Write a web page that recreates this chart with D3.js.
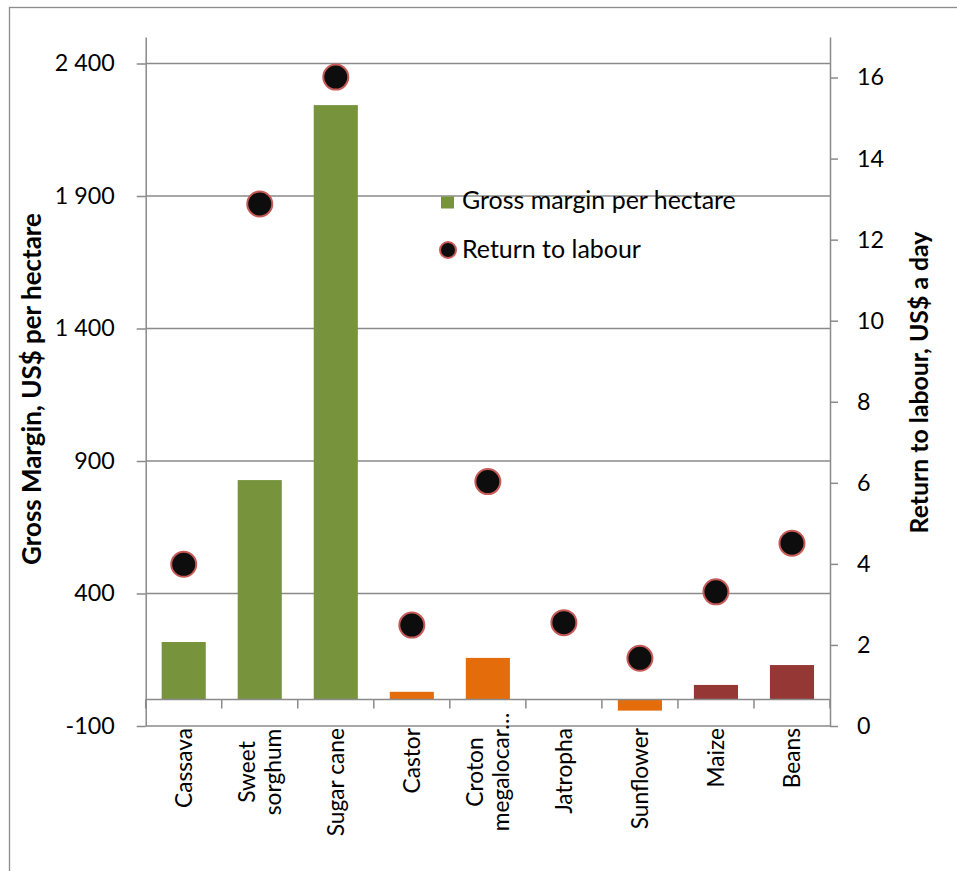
<!DOCTYPE html>
<html>
<head>
<meta charset="utf-8">
<script src="https://cdn.jsdelivr.net/npm/d3@7"></script>
<style>
  html, body { margin: 0; padding: 0; background: #fff; }
  svg { display: block; font-family: Lato, "Liberation Sans", sans-serif; }
</style>
</head>
<body>
<svg id="chart" width="957" height="871"></svg>
<script>
// ---- data ----
const categories = ["Cassava", "Sweet sorghum", "Sugar cane", "Castor", "Croton megalocarpus", "Jatropha", "Sunflower", "Maize", "Beans"];
const categoryLabels = [["Cassava"], ["Sweet", "sorghum"], ["Sugar cane"], ["Castor"], ["Croton", "megalocar…"], ["Jatropha"], ["Sunflower"], ["Maize"], ["Beans"]];
const cropGroups = ["energy", "energy", "energy", "oil", "oil", "oil", "oil", "food", "food"];
const grossMargin = [217, 828, 2243, 29, 157, 0, -42, 55, 130];
const returnToLabour = [3.99, 12.88, 16.01, 2.49, 6.03, 2.55, 1.67, 3.31, 4.51];
const leftTicks = [-100, 400, 900, 1400, 1900, 2400];
const rightTicks = [0, 2, 4, 6, 8, 10, 12, 14, 16];
const seriesNames = ["Gross margin per hectare", "Return to labour"];
const leftTitle = "Gross Margin, US$ per hectare";
const rightTitle = "Return to labour, US$ a day";

// ---- layout ----
const svg = d3.select("#chart");
const plotLeft = 145.7, plotRight = 830, plotTop = 37, plotBottom = 726;
const gridColor = "#8a8a8a";

const x = d3.scaleBand().domain(categories).range([plotLeft, plotRight]).paddingInner(0.42).paddingOuter(0.21);
const yL = d3.scaleLinear().domain([-100, 2500]).range([plotBottom, plotTop]);
const yR = d3.scaleLinear().domain([0, 17]).range([plotBottom, plotTop]);
const color = d3.scaleOrdinal().domain(["energy", "oil", "food"]).range(["#77933C", "#E46C0A", "#953735"]);

const locale = d3.formatLocale({ decimal: ".", thousands: " ", grouping: [3], currency: ["", ""], minus: "-" });
const fmtL = locale.format(",");

// helper: font size so that sample text has the target width
function fitSize(sample, target, weight) {
  const t = svg.append("text").attr("font-size", 100).attr("font-weight", weight || "normal").text(sample);
  const w = t.node().getComputedTextLength();
  t.remove();
  return 100 * target / w;
}
const tickFs = fitSize("2 400", 60);
const catFs = fitSize("Cassava", 80);
const legFs = fitSize(seriesNames[0], 274);
const leftTitleFs = fitSize(leftTitle, 352, "bold");
const rightTitleFs = fitSize(rightTitle, 302, "bold");

// outer frame
svg.append("rect").attr("x", 9.5).attr("y", 7.5).attr("width", 1000).attr("height", 1000)
  .attr("fill", "none").attr("stroke", "#8c8c8c").attr("stroke-width", 1.3);

// gridlines
svg.append("g").selectAll("line").data(leftTicks).join("line")
  .attr("x1", plotLeft).attr("x2", plotRight)
  .attr("y1", d => yL(d)).attr("y2", d => yL(d))
  .attr("stroke", gridColor).attr("stroke-width", 1.5);

// bars
svg.append("g").selectAll("rect").data(categories).join("rect")
  .attr("x", d => x(d))
  .attr("width", x.bandwidth())
  .attr("y", (d, i) => yL(Math.max(0, grossMargin[i])))
  .attr("height", (d, i) => Math.abs(yL(grossMargin[i]) - yL(0)))
  .attr("fill", (d, i) => color(cropGroups[i]));

// zero line with category separators
const zeroG = svg.append("g");
zeroG.append("line").attr("x1", plotLeft).attr("x2", plotRight)
  .attr("y1", yL(0)).attr("y2", yL(0)).attr("stroke", gridColor).attr("stroke-width", 1.5);
zeroG.selectAll("line.sep").data(d3.range(categories.length + 1)).join("line").attr("class", "sep")
  .attr("x1", i => plotLeft + i * x.step()).attr("x2", i => plotLeft + i * x.step())
  .attr("y1", yL(0)).attr("y2", yL(0) + 9)
  .attr("stroke", gridColor).attr("stroke-width", 1.5);

// left axis
const axL = svg.append("g").attr("transform", `translate(${plotLeft},0)`)
  .call(d3.axisLeft(yL).tickValues(leftTicks).tickFormat(fmtL).tickSize(9).tickSizeOuter(0).tickPadding(22));
axL.select(".domain").attr("stroke", gridColor).attr("stroke-width", 1.5);
axL.selectAll(".tick line").attr("stroke", gridColor).attr("stroke-width", 1.5);
axL.selectAll(".tick text").attr("font-size", tickFs).attr("font-family", "Lato").attr("fill", "#000");

// right axis
const axR = svg.append("g").attr("transform", `translate(${plotRight},0)`)
  .call(d3.axisRight(yR).tickValues(rightTicks).tickSize(8).tickSizeOuter(0).tickPadding(19));
axR.select(".domain").attr("stroke", gridColor).attr("stroke-width", 1.5);
axR.selectAll(".tick line").attr("stroke", gridColor).attr("stroke-width", 1.5);
axR.selectAll(".tick text").attr("font-size", tickFs).attr("font-family", "Lato").attr("fill", "#000");

// category labels (rotated)
const lineH = 26;
const catG = svg.append("g");
categories.forEach((c, i) => {
  const lines = categoryLabels[i];
  const cx = x(c) + x.bandwidth() / 2;
  lines.forEach((ln, j) => {
    const off = (j - (lines.length - 1) / 2) * lineH;
    const single = lines.length === 1;
    catG.append("text")
      .attr("transform", `translate(${cx + off},${single ? plotBottom + 2 : 772}) rotate(-90)`)
      .attr("text-anchor", single ? "end" : "middle")
      .attr("dy", "0.37em")
      .attr("font-size", catFs)
      .attr("fill", "#000")
      .text(ln);
  });
});

// dots
svg.append("g").selectAll("circle").data(categories).join("circle")
  .attr("cx", d => x(d) + x.bandwidth() / 2)
  .attr("cy", (d, i) => yR(returnToLabour[i]))
  .attr("r", 12.5)
  .attr("fill", "#0d0d0d")
  .attr("stroke", "#c65a57").attr("stroke-width", 2);

// legend
const leg = svg.append("g");
leg.append("rect").attr("x", 441).attr("y", 196.5).attr("width", 13).attr("height", 12).attr("fill", "#77933C");
leg.append("text").attr("x", 462).attr("y", 208.5).attr("font-size", legFs).attr("fill", "#000").text(seriesNames[0]);
leg.append("circle").attr("cx", 448).attr("cy", 250).attr("r", 8).attr("fill", "#0d0d0d")
  .attr("stroke", "#c65a57").attr("stroke-width", 2);
leg.append("text").attr("x", 462).attr("y", 257.5).attr("font-size", legFs).attr("fill", "#000").text(seriesNames[1]);

// axis titles
svg.append("text").attr("transform", "translate(41,389) rotate(-90)")
  .attr("text-anchor", "middle").attr("font-weight", "bold").attr("font-size", leftTitleFs)
  .attr("fill", "#000").text(leftTitle);
svg.append("text").attr("transform", "translate(928,382.5) rotate(-90)")
  .attr("text-anchor", "middle").attr("font-weight", "bold").attr("font-size", rightTitleFs)
  .attr("fill", "#000").text(rightTitle);
</script>
</body>
</html>
